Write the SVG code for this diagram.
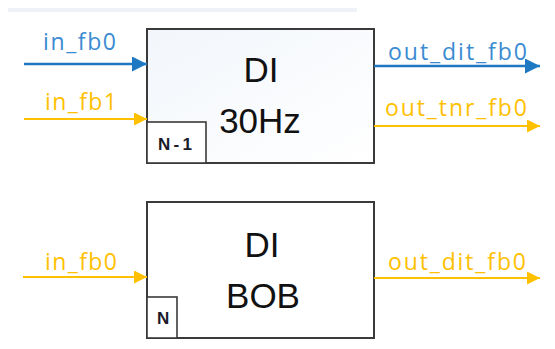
<svg xmlns="http://www.w3.org/2000/svg" width="555" height="349" viewBox="0 0 555 349">
  <defs>
    <marker id="ab" viewBox="0 0 10 10" refX="10" refY="5" markerWidth="16" markerHeight="15" markerUnits="userSpaceOnUse" orient="auto">
      <path d="M0,0 L10,5 L0,10 Z" fill="#1e78c2"/>
    </marker>
    <marker id="ay" viewBox="0 0 10 10" refX="10" refY="5" markerWidth="17" markerHeight="13" markerUnits="userSpaceOnUse" orient="auto">
      <path d="M0,0 L10,5 L0,10 Z" fill="#ffc000"/>
    </marker>
    <linearGradient id="g1" x1="0" y1="0" x2="1" y2="1">
      <stop offset="0" stop-color="#f2f6fb"/>
      <stop offset="1" stop-color="#ffffff"/>
    </linearGradient>
  </defs>
  <style>
    .box { stroke: #3a3a3a; stroke-width: 2; }
    .tag { fill: #ffffff; stroke: #3a3a3a; stroke-width: 1.6; }
    .big { font-family: "Liberation Sans", Arial, sans-serif; font-size: 35px; fill: #111111; text-anchor: middle; }
    .tagt { font-family: "Liberation Sans", Arial, sans-serif; font-size: 17px; font-weight: bold; fill: #1a1a2a; }
    .lbl { font-family: "Open Sans", "DejaVu Sans", sans-serif; font-size: 23px; }
    .blue { fill: #3a8bd2; }
    .yel { fill: #ffc000; }
    .lb { stroke: #1e78c2; stroke-width: 2.5; fill: none; }
    .ly { stroke: #ffc000; stroke-width: 2; fill: none; }
  </style>
  <rect width="555" height="349" fill="#ffffff"/>
  <rect x="8" y="8" width="349" height="4" fill="#eef2f8"/>

  <g id="node-di30">
    <rect class="box" x="147" y="29" width="227" height="134" fill="url(#g1)"/>
    <text class="big" x="261" y="82">DI</text>
    <text class="big" x="260" y="133">30Hz</text>
    <rect class="tag" x="147" y="122" width="59" height="41"/>
    <text class="tagt" x="158" y="150" textLength="34" lengthAdjust="spacing">N-1</text>
  </g>

  <g id="node-dibob">
    <rect class="box" x="147" y="202" width="227" height="136" fill="#ffffff"/>
    <text class="big" x="262" y="257">DI</text>
    <text class="big" x="263" y="308">BOB</text>
    <rect class="tag" x="147" y="297" width="30" height="41"/>
    <text class="tagt" x="157" y="324">N</text>
  </g>

  <g id="connectors">
    <line class="lb" x1="24" y1="64" x2="147" y2="64" marker-end="url(#ab)"/>
    <line class="ly" x1="24" y1="119" x2="147" y2="119" marker-end="url(#ay)"/>
    <line class="lb" x1="374" y1="66" x2="540" y2="66" marker-end="url(#ab)"/>
    <line class="ly" x1="374" y1="126" x2="540" y2="126" marker-end="url(#ay)"/>
    <line class="ly" x1="23" y1="277" x2="147" y2="277" marker-end="url(#ay)"/>
    <line class="ly" x1="374" y1="278" x2="540" y2="278" marker-end="url(#ay)"/>

    <text class="lbl blue" x="43" y="50" textLength="73" lengthAdjust="spacing">in_fb0</text>
    <text class="lbl yel" x="45" y="110" textLength="72" lengthAdjust="spacing">in_fb1</text>
    <text class="lbl blue" x="388" y="60" textLength="139" lengthAdjust="spacing">out_dit_fb0</text>
    <text class="lbl yel" x="385" y="116" textLength="142" lengthAdjust="spacing">out_tnr_fb0</text>
    <text class="lbl yel" x="45" y="270" textLength="72" lengthAdjust="spacing">in_fb0</text>
    <text class="lbl yel" x="388" y="270" textLength="138" lengthAdjust="spacing">out_dit_fb0</text>
  </g>
</svg>
